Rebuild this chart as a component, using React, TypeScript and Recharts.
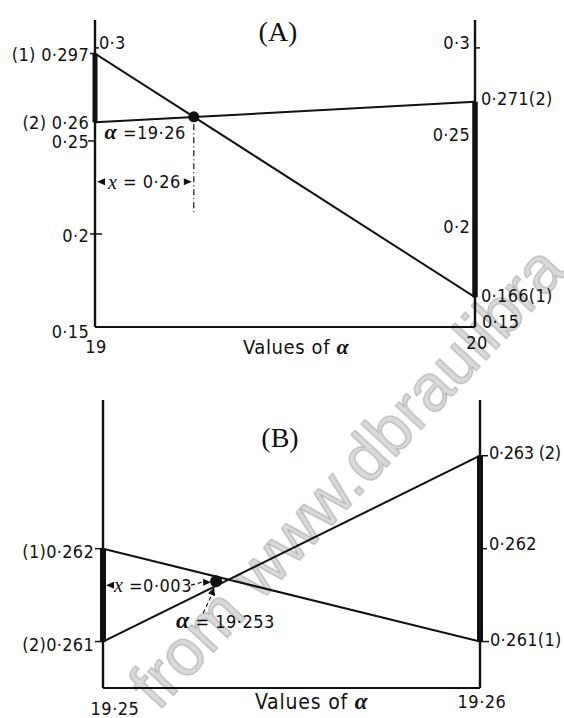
import { Line, LineChart, ReferenceDot, ReferenceLine, XAxis, YAxis } from 'recharts';

const SANS = "'DejaVu Sans Condensed', 'DejaVu Sans', sans-serif";
const SERIF = "'Liberation Serif', 'DejaVu Serif', serif";
const INK = '#111';
const W = 564;

// (A) first trial: α between 19 and 20
const alphaA = [19, 20];
const curve1A = [0.297, 0.166];
const curve2A = [0.26, 0.271];
const rootA = 19.26;
const leftTicksA = [0.15, 0.2, 0.25, 0.26, 0.297, 0.3];
const leftLabelsA = ['0·15', '0·2', '0·25', '(2) 0·26', '(1) 0·297', '0·3'];
const rightTicksA = [0.15, 0.166, 0.2, 0.25, 0.271, 0.3];
const rightLabelsA = ['0·15', '0·166(1)', '0·2', '0·25', '0·271(2)', '0·3'];
const xLabelsA = ['19', '20'];

// (B) second trial: α between 19·25 and 19·26
const alphaB = [19.25, 19.26];
const curve1B = [0.262, 0.261];
const curve2B = [0.261, 0.263];
const rootB = 19.253;
const leftTicksB = [0.261, 0.262];
const leftLabelsB = ['(2)0·261', '(1)0·262'];
const rightTicksB = [0.261, 0.262, 0.263];
const rightLabelsB = ['0·261(1)', '0·262', '0·263 (2)'];
const xLabelsB = ['19·25', '19·26'];

type TickStyle = { side: 'l' | 'r'; dy: number; gap?: number; ls?: number; mark?: [number, number] };
type XTickStyle = { dx: number; dy: number };

const leftStyleA: Record<string, TickStyle> = {
    0.15: { side: 'l', dy: 4 },
    0.2: { side: 'l', dy: 2, mark: [-5, 7] },
    0.25: { side: 'l', dy: 1, mark: [-7, 0] },
    0.26: { side: 'l', dy: 0 },
    0.297: { side: 'l', dy: 1, mark: [-5, 0] },
    0.3: { side: 'r', dy: -5, gap: 4, mark: [0, 4] },
};
const rightStyleA: Record<string, TickStyle> = {
    0.15: { side: 'r', dy: -6, gap: 7 },
    0.166: { side: 'r', dy: -2 },
    0.2: { side: 'l', dy: -7, gap: 5 },
    0.25: { side: 'l', dy: -6, gap: 5 },
    0.271: { side: 'r', dy: -3 },
    0.3: { side: 'l', dy: -5, gap: 5, mark: [0, 5] },
};
const leftStyleB: Record<string, TickStyle> = {
    0.261: { side: 'l', dy: 3, gap: 9, mark: [-8, 0] },
    0.262: { side: 'l', dy: 3, gap: 9, mark: [-8, 0] },
};
const rightStyleB: Record<string, TickStyle> = {
    0.261: { side: 'r', dy: -2, gap: 10, mark: [0, 9] },
    0.262: { side: 'r', dy: -5, gap: 9, mark: [-2, 7] },
    0.263: { side: 'r', dy: -3, gap: 9, ls: -0.3, mark: [0, 8] },
};
const xStyleA: Record<string, XTickStyle> = { 19: { dx: 1, dy: 26 }, 20: { dx: 2, dy: 22 } };
const xStyleB: Record<string, XTickStyle> = { 19.25: { dx: 12, dy: 27 }, 19.26: { dx: 2, dy: 20 } };

const lerp = (xs: number[], ys: number[], x: number) =>
    ys[0] + ((ys[1] - ys[0]) * (x - xs[0])) / (xs[1] - xs[0]);

function makeYTick(ticks: number[], labels: string[], styles: Record<string, TickStyle>) {
    return (props: any) => {
        const { x, y, payload } = props;
        const v = payload.value as number;
        const label = labels[ticks.indexOf(v)];
        const s = styles[String(v)] ?? { side: 'l', dy: 0 };
        const gap = s.gap ?? 6;
        return (
            <g>
                {s.mark && <line x1={x + s.mark[0]} x2={x + s.mark[1]} y1={y} y2={y} stroke={INK} strokeWidth={1.5} />}
                <text
                    x={s.side === 'l' ? x - gap : x + gap}
                    y={y + s.dy}
                    textAnchor={s.side === 'l' ? 'end' : 'start'}
                    dominantBaseline="central"
                    fontFamily={SANS}
                    fontSize={18}
                    letterSpacing={s.ls ?? 0.3}
                    fill={INK}
                >
                    {label}
                </text>
            </g>
        );
    };
}

function makeXTick(ticks: number[], labels: string[], styles: Record<string, XTickStyle>) {
    return (props: any) => {
        const { x, y, payload } = props;
        const v = payload.value as number;
        const s = styles[String(v)] ?? { dx: 0, dy: 22 };
        return (
            <text x={x + s.dx} y={y + s.dy} textAnchor="middle" fontFamily={SANS} fontSize={18} letterSpacing={0.5} fill={INK}>
                {labels[ticks.indexOf(v)]}
            </text>
        );
    };
}

const arrowLeft = (x: number, y: number) => `M${x},${y} L${x + 8},${y - 3.5} L${x + 8},${y + 3.5} Z`;
const arrowRight = (x: number, y: number) => `M${x},${y} L${x - 8},${y - 3.5} L${x - 8},${y + 3.5} Z`;

function Alpha({ size = 22 }: { size?: number }) {
    return (
        <tspan fontFamily={SERIF} fontStyle="italic" fontWeight="bold" fontSize={size}>
            α
        </tspan>
    );
}

const axisProps = {
    type: 'number' as const,
    interval: 0 as const,
    tickSize: 0,
    tickMargin: 0,
    tickLine: false,
    allowDataOverflow: true,
};

function PanelA() {
    const data = alphaA.map((a, i) => ({ a, c1: curve1A[i], c2: curve2A[i] }));
    const yRoot = lerp(alphaA, curve1A, rootA);
    const spanY = 0.228;
    const axis = { stroke: INK, strokeWidth: 2.4 };
    return (
        <LineChart width={W} height={370} data={data} margin={{ top: 20, right: 88, bottom: 42, left: 94 }}>
            <XAxis
                {...axisProps}
                dataKey="a"
                domain={[19, 20]}
                ticks={alphaA}
                height={1}
                axisLine={{ stroke: INK, strokeWidth: 2 }}
                tick={makeXTick(alphaA, xLabelsA, xStyleA)}
            />
            <YAxis
                {...axisProps}
                yAxisId="l"
                orientation="left"
                domain={[0.15, 0.315]}
                ticks={leftTicksA}
                width={1}
                axisLine={axis}
                tick={makeYTick(leftTicksA, leftLabelsA, leftStyleA)}
            />
            <YAxis
                {...axisProps}
                yAxisId="r"
                orientation="right"
                domain={[0.15, 0.315]}
                ticks={rightTicksA}
                width={1}
                axisLine={axis}
                tick={makeYTick(rightTicksA, rightLabelsA, rightStyleA)}
            />
            {/* gaps between the two curves on each end */}
            <ReferenceLine yAxisId="l" segment={[{ x: 19, y: curve2A[0] }, { x: 19, y: curve1A[0] }]} stroke={INK} strokeWidth={5} />
            <ReferenceLine yAxisId="l" segment={[{ x: 20, y: curve1A[1] }, { x: 20, y: curve2A[1] }]} stroke={INK} strokeWidth={5.5} />
            <Line yAxisId="l" dataKey="c1" stroke={INK} strokeWidth={2} dot={false} isAnimationActive={false} />
            <Line yAxisId="l" dataKey="c2" stroke={INK} strokeWidth={2} dot={false} isAnimationActive={false} />
            <ReferenceLine
                yAxisId="l"
                segment={[{ x: rootA, y: yRoot - 0.004 }, { x: rootA, y: 0.211 }]}
                stroke={INK}
                strokeWidth={1.2}
                strokeDasharray="6 3 1 3"
            />
            <ReferenceLine
                yAxisId="l"
                segment={[{ x: 19, y: spanY }, { x: rootA, y: spanY }]}
                shape={(p: any) => (
                    <g>
                        <path d={arrowLeft(p.x1 + 2, p.y1)} fill={INK} />
                        <path d={arrowRight(p.x2 - 2, p.y1)} fill={INK} />
                        <text x={(p.x1 + p.x2) / 2} y={p.y1} dominantBaseline="central" textAnchor="middle" fontFamily={SANS} fontSize={18} letterSpacing={0.5} fill={INK}>
                            <tspan fontFamily={SERIF} fontStyle="italic" fontSize={20}>x</tspan>
                            {' = 0·26'}
                        </text>
                    </g>
                )}
            />
            <ReferenceDot
                yAxisId="l"
                x={rootA}
                y={yRoot}
                r={5}
                shape={(p: any) => (
                    <g>
                        <circle cx={p.cx} cy={p.cy} r={5.5} fill={INK} />
                        <text x={p.cx - 8} y={p.cy + 22} textAnchor="end" fontFamily={SANS} fontSize={18} letterSpacing={0.5} fill={INK}>
                            <Alpha />
                            {' =19·26'}
                        </text>
                    </g>
                )}
            />
        </LineChart>
    );
}

function PanelB() {
    const data = alphaB.map((a, i) => ({ a, c1: curve1B[i], c2: curve2B[i] }));
    const yRoot = (lerp(alphaB, curve1B, rootB) + lerp(alphaB, curve2B, rootB)) / 2;
    const axis = { stroke: INK, strokeWidth: 2.4 };
    return (
        <LineChart width={W} height={338} data={data} margin={{ top: 20, right: 83, bottom: 29, left: 102 }}>
            <XAxis
                {...axisProps}
                dataKey="a"
                domain={[19.25, 19.26]}
                ticks={alphaB}
                height={1}
                axisLine={{ stroke: INK, strokeWidth: 2 }}
                tick={makeXTick(alphaB, xLabelsB, xStyleB)}
            />
            <YAxis
                {...axisProps}
                yAxisId="l"
                orientation="left"
                domain={[0.2605, 0.2636]}
                ticks={leftTicksB}
                width={1}
                axisLine={axis}
                tick={makeYTick(leftTicksB, leftLabelsB, leftStyleB)}
            />
            <YAxis
                {...axisProps}
                yAxisId="r"
                orientation="right"
                domain={[0.2605, 0.2636]}
                ticks={rightTicksB}
                width={1}
                axisLine={axis}
                tick={makeYTick(rightTicksB, rightLabelsB, rightStyleB)}
            />
            <ReferenceLine yAxisId="l" segment={[{ x: 19.25, y: curve2B[0] }, { x: 19.25, y: curve1B[0] }]} stroke={INK} strokeWidth={6} />
            <ReferenceLine yAxisId="l" segment={[{ x: 19.26, y: curve1B[1] }, { x: 19.26, y: curve2B[1] }]} stroke={INK} strokeWidth={6} />
            <Line yAxisId="l" dataKey="c1" stroke={INK} strokeWidth={2} dot={false} isAnimationActive={false} />
            <Line yAxisId="l" dataKey="c2" stroke={INK} strokeWidth={2} dot={false} isAnimationActive={false} />
            <ReferenceLine
                yAxisId="l"
                segment={[{ x: 19.25, y: yRoot }, { x: rootB, y: yRoot }]}
                shape={(p: any) => (
                    <g>
                        <path d={arrowLeft(p.x1 + 3, p.y1 + 4)} fill={INK} />
                        <text x={p.x1 + 11} y={p.y1 + 4} dominantBaseline="central" fontFamily={SANS} fontSize={18} letterSpacing={0.5} fill={INK}>
                            <tspan fontFamily={SERIF} fontStyle="italic" fontSize={20}>x</tspan>
                            {' =0·003'}
                        </text>
                        <line x1={p.x1 + 88} y1={p.y1 + 4} x2={p.x2 - 14} y2={p.y1 + 1} stroke={INK} strokeWidth={1.2} strokeDasharray="4 3" />
                        <path d={arrowRight(p.x2 - 5, p.y1 + 1)} fill={INK} />
                    </g>
                )}
            />
            <ReferenceDot
                yAxisId="l"
                x={rootB}
                y={yRoot}
                r={5}
                shape={(p: any) => (
                    <g>
                        <circle cx={p.cx} cy={p.cy} r={6} fill={INK} />
                        <line x1={p.cx - 13} y1={p.cy + 32} x2={p.cx - 4} y2={p.cy + 13} stroke={INK} strokeWidth={1.2} strokeDasharray="4 3" />
                        <path d={`M${p.cx - 2},${p.cy + 6} L${p.cx - 1},${p.cy + 15} L${p.cx - 8},${p.cy + 12} Z`} fill={INK} />
                        <text x={p.cx - 40} y={p.cy + 47} fontFamily={SANS} fontSize={18} letterSpacing={0.5} fill={INK}>
                            <Alpha size={24} />
                            {' = 19·253'}
                        </text>
                    </g>
                )}
            />
        </LineChart>
    );
}

export default function App() {
    return (
        <div style={{ position: 'absolute', left: 0, top: 0, width: W, height: 718, background: '#fff', overflow: 'hidden' }}>
            <svg width={W} height={718} style={{ position: 'absolute', left: 0, top: 0 }}>
                <defs>
                    <filter id="soft" x="-5%" y="-5%" width="110%" height="110%">
                        <feGaussianBlur stdDeviation="0.7" />
                    </filter>
                </defs>
                <text
                    transform="translate(158,712) rotate(-47)"
                    fontFamily="'Liberation Sans', Arial, sans-serif"
                    fontSize={66}
                    fill="#dadada"
                    stroke="#b4b4b4"
                    strokeWidth={1.2}
                    filter="url(#soft)"
                >
                    from www.dbraulibra
                </text>
                <text x={278} y={41} textAnchor="middle" fontFamily={SERIF} fontSize={28} fill={INK}>
                    (A)
                </text>
                <text x={280} y={447} textAnchor="middle" fontFamily={SERIF} fontSize={28} fill={INK}>
                    (B)
                </text>
                <text x={243} y={354} fontFamily={SANS} fontSize={20} letterSpacing={0.6} fill={INK}>
                    {'Values of '}
                    <Alpha size={22} />
                </text>
                <text x={255} y={709} fontFamily={SANS} fontSize={21} letterSpacing={0.8} fill={INK}>
                    {'Values of '}
                    <Alpha size={23} />
                </text>
            </svg>
            <div style={{ position: 'absolute', left: 0, top: 0 }}>
                <PanelA />
            </div>
            <div style={{ position: 'absolute', left: 0, top: 380 }}>
                <PanelB />
            </div>
        </div>
    );
}
